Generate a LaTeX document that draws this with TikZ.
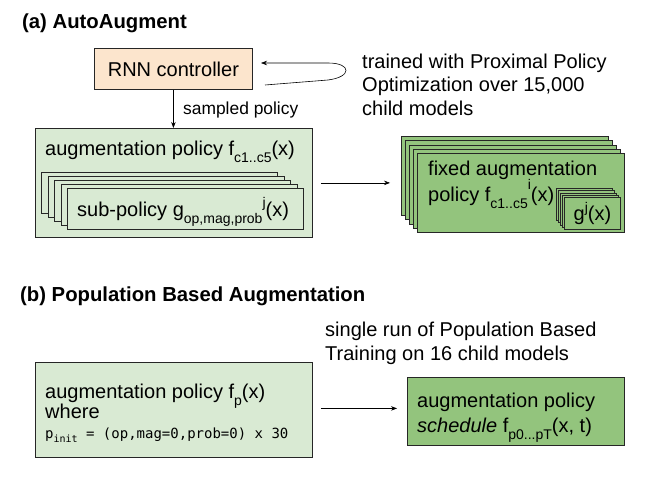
\documentclass[tikz,border=0pt]{standalone}
\usepackage{fontspec}
\setmainfont{Liberation Sans}
\newfontfamily\codefont{DejaVu Sans Mono}
\usetikzlibrary{calc,positioning,arrows.meta}
\definecolor{peach}{HTML}{FCE5CD}
\definecolor{palegreen}{HTML}{D9EAD3}
\definecolor{midgreen}{HTML}{93C47D}
\newcommand{\lo}[1]{\raisebox{-0.35em}{\fontsize{14}{14}\selectfont #1}}
\newcommand{\hi}[2][0.42em]{\raisebox{#1}{\fontsize{14}{14}\selectfont #2}}

\begin{document}
\begin{tikzpicture}[x=1pt,y=-1pt,every node/.style={inner sep=0pt},
  txt/.style={font=\fontsize{20}{23.3}\selectfont,anchor=base west,align=left},
  small/.style={font=\fontsize{17.4}{20}\selectfont,anchor=base west},
  heading/.style={font=\fontsize{20.3}{22}\selectfont\bfseries,anchor=base west},
  box/.style={draw=black!85,line width=0.8pt,anchor=north west},
  arr/.style={-{Stealth[length=6pt,width=4.5pt]},line width=0.6pt}]
  \useasboundingbox (0,0) rectangle (671,484);

  % (a) AutoAugment
  \node[heading] (titlea) at (22,29) {(a) AutoAugment};
  \node[box,fill=peach,minimum width=158,minimum height=41,
        font=\fontsize{20}{23.3}\selectfont] (rnn) at (94,48) {RNN controller};
  \node[txt] (ppo) at (362,115) {trained with Proximal Policy\\Optimization over 15,000\\child models};
  \coordinate (loopout) at (265,85);
  \coordinate (loopin) at (261,63);
  \draw[arr] (loopout) -- (328,80) .. controls (352,77) and (352,63) .. (328,63) -- (loopin);

  \node[box,fill=palegreen,minimum width=277,minimum height=109] (augbox) at (35,128) {};
  \node[txt] (augtxt) at (45,155) {augmentation policy f\lo{c1..c5}(x)};
  \foreach \k in {4,...,1}
    \node[box,fill=palegreen,minimum width=236,minimum height=41] (subback\k) at ({67-6.5*\k},{188-4*\k}) {};
  \node[box,fill=palegreen,minimum width=236,minimum height=41] (sub) at (67,188) {};
  \node[txt] (subtxt) at (77,216) {sub-policy g\lo{op,mag,prob}\hi{j}(x)};
  \draw[arr] (rnn.south) -- (rnn.south |- augbox.north);
  \node[small] (sampled) at (183,114) {sampled policy};

  \foreach \k in {4,...,1}
    \node[box,fill=midgreen,minimum width=207,minimum height=79] (fixback\k) at ({417-4*\k},{153-4.2*\k}) {};
  \node[box,fill=midgreen,minimum width=207,minimum height=79] (fix) at (417,153) {};
  \node[txt] (fixtxt) at (428,175) {fixed augmentation};
  \node[txt] (fixtxt2) at (428,201.5) {policy f\lo{c1..c5}\hi[0.6em]{i}(x)};
  \foreach \k in {4,...,1}
    \node[box,fill=midgreen,minimum width=56,minimum height=32] (gback\k) at ({564-2*\k},{197-2.2*\k}) {};
  \node[box,fill=midgreen,minimum width=56,minimum height=32,
        font=\fontsize{20}{23.3}\selectfont] (g) at (564,197) {g\hi{j}(x)};
  \draw[arr] ([xshift=8pt]augbox.east) -- ([xshift=-11pt]augbox.east -| fixback4.west);

  % (b) Population Based Augmentation
  \node[heading] (titleb) at (20,301.7) {(b) Population Based Augmentation};
  \node[txt] (pbt) at (325,360) {single run of Population Based\\Training on 16 child models};
  \node[box,fill=palegreen,minimum width=277,minimum height=95] (pbabox) at (35,362) {};
  \node[txt] (pbatxt) at (45,398) {augmentation policy f\lo{p}(x)};
  \node[txt] (pbawhere) at (45,418) {where};
  \node[anchor=base west,font=\codefont\fontsize{14}{16}\selectfont] (pbainit) at (45,438)
    {p\raisebox{-4pt}{\fontsize{10}{10}\selectfont init} = (op,mag=0,prob=0) x 30};
  \node[box,fill=midgreen,minimum width=217,minimum height=68] (sched) at (407,377) {};
  \node[txt] (schedtxt) at (417,407) {augmentation policy};
  \node[txt] (schedtxt2) at (417,432) {\itshape schedule\/\upshape{} f\lo{p0...pT}(x, t)};
  \draw[arr] ($(pbabox.east)+(8,-1.5)$) -- ($(sched.west)+(-10,-3)$);
\end{tikzpicture}
\end{document}
